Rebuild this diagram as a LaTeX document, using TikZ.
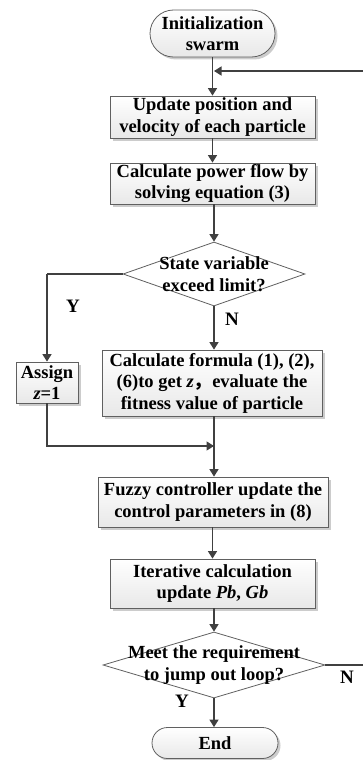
\documentclass[tikz,border=0pt]{standalone}
\usepackage{fontspec}
\setmainfont{Liberation Serif}
\newfontfamily\cjk{Noto Sans CJK SC}
\usetikzlibrary{arrows.meta,shapes.geometric,shapes.misc,shadows}
\definecolor{linec}{HTML}{404040}
\definecolor{bordc}{HTML}{606060}
\tikzset{
  base/.style={draw=bordc, line width=0.8pt, top color=white, bottom color=black!9,
    font=\fontsize{18.5}{21.5}\selectfont\bfseries, align=center, inner sep=0pt,
    drop shadow={shadow xshift=2.5pt, shadow yshift=-2.5pt, fill=black!20, opacity=1}},
  procbox/.style={base, rectangle},
  termbox/.style={base, rounded rectangle},
  decbox/.style={draw=bordc, line width=0.8pt, fill=white, diamond, inner sep=0pt},
  dectext/.style={font=\fontsize{18.5}{21.5}\selectfont\bfseries, align=center},
  conn/.style={draw=linec, line width=1.5pt, -{Triangle[width=9pt,length=7.5pt]}},
  plain/.style={draw=linec, line width=1.5pt},
  lab/.style={font=\fontsize{19}{20}\selectfont\bfseries}
}
\begin{document}
\begin{tikzpicture}[x=1pt,y=-1pt]
\useasboundingbox (0,0) rectangle (363,760);
\node[termbox, minimum width=125pt, minimum height=47pt] (start) at (212.5,33.5) {Initialization\\swarm};
\node[procbox, minimum width=205pt, minimum height=42pt] (b1) at (212.5,117) {Update position and\\velocity of each particle};
\node[procbox, minimum width=205pt, minimum height=41pt] (b2) at (212.5,183.5) {Calculate power flow by\\solving equation (3)};
\node[decbox, minimum width=182pt, minimum height=64pt,
  label={[dectext]center:State variable\\exceed limit?}] (d1) at (214,274) {};
\node[procbox, minimum width=62pt, minimum height=41pt] (assign) at (47,382.5) {Assign\\\textit{z}=1};
\node[procbox, minimum width=220pt, minimum height=66pt] (calc) at (212,383) {Calculate formula (1), (2),\\(6)to get \textit{z}{\cjk ，}evaluate the\\fitness value of particle};
\coordinate (join) at (214,446);
\node[procbox, minimum width=230pt, minimum height=50pt] (fuzzy) at (213,502) {Fuzzy controller update the\\control parameters in (8)};
\node[procbox, minimum width=205pt, minimum height=49pt] (iter) at (212.5,583.5) {Iterative calculation\\update \textit{Pb}, \textit{Gb}};
\node[decbox, minimum width=222pt, minimum height=66pt,
  label={[dectext]center:Meet the requirement\\to jump out loop?}] (d2) at (214,665) {};
\node[termbox, minimum width=126pt, minimum height=31pt] (end) at (215,743) {End};
\coordinate (loopin) at (214,71);
\coordinate (rt) at (367,665);
\coordinate (rtop) at (367,71);
\coordinate (lft) at (47,274);
% connectors
\draw[conn] (start.south) -- (b1.north);
\draw[conn] (b1.south) -- (b2.north);
\draw[conn] (b2.south -| d1.north) -- (d1.north);
\draw[conn] (d1.south) -- (d1.south |- calc.north);
\draw[plain] (d1.west) -- (lft);
\draw[conn] (lft) -- (assign.north);
\draw[plain] (calc.south -| join) -- (join);
\draw[conn] (assign.south) |- (join);
\draw[conn] (join) -- (join |- fuzzy.north);
\draw[conn] (fuzzy.south -| iter.north) -- (iter.north);
\draw[conn] (iter.south -| d2.north) -- (d2.north);
\draw[conn] (d2.south) -- (d2.south |- end.north);
\draw[plain] (d2.east) -- (rt) -- (rtop);
\draw[conn] (rtop) -- (loopin);
% labels
\node[lab] (ylab1) at (73,306) {Y};
\node[lab] (nlab1) at (232,319) {N};
\node[lab] (nlab2) at (347,677) {N};
\node[lab] (ylab2) at (182,701) {Y};
\end{tikzpicture}
\end{document}
